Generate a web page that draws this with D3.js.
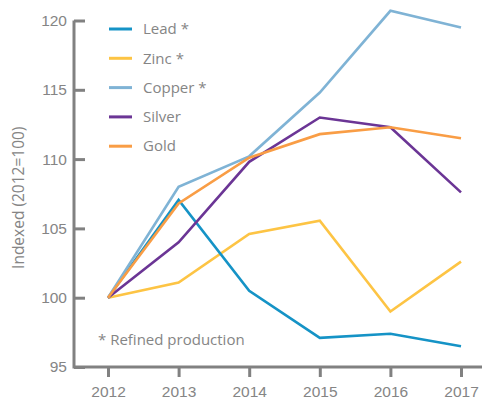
<!DOCTYPE html>
<html>
<head>
<meta charset="utf-8">
<script src="https://cdn.jsdelivr.net/npm/d3@7"></script>
<style>
  html, body { margin: 0; padding: 0; background: #fff; }
  svg { display: block; font-family: "Open Sans", "Noto Sans", sans-serif; }
</style>
</head>
<body>
<svg id="chart" width="482" height="401"></svg>
<script>
const years = [2012, 2013, 2014, 2015, 2016, 2017]
const yTicks = [95, 100, 105, 110, 115, 120]

const lead = [100, 107.05, 100.5, 97.1, 97.4, 96.5]
const zinc = [100, 101.1, 104.6, 105.55, 99.0, 102.6]
const copper = [100, 108.0, 110.2, 114.8, 120.7, 119.5]
const silver = [100, 104.0, 109.8, 113.0, 112.3, 107.6]
const gold = [100, 106.8, 110.1, 111.8, 112.3, 111.5]

const seriesNames = ["Lead *", "Zinc *", "Copper *", "Silver", "Gold"]
const seriesColors = ["#1593c6", "#fdc444", "#7fb3d5", "#6b3595", "#f99d45"]
const seriesValues = [lead, zinc, copper, silver, gold]

const width = 482
const height = 401
const axisColor = "#818181"
const textColor = "#858585"

const svg = d3.select("#chart")

const x = d3.scaleLinear().domain([2012, 2017]).range([108, 461])
const y = d3.scaleLinear().domain([95, 120]).range([367, 20.5])
const axisX = 74

// y axis
const yAxis = svg.append("g")
  .attr("transform", `translate(${axisX},0)`)
  .call(d3.axisLeft(y).tickValues(yTicks).tickSizeInner(-11).tickSizeOuter(0).tickPadding(7))
yAxis.select(".domain").remove()
yAxis.selectAll("line").attr("stroke", axisColor).attr("stroke-width", 3)
yAxis.selectAll("text")
  .attr("fill", textColor)
  .attr("font-size", 15.5)
  .attr("font-family", null)

// x axis
const xAxis = svg.append("g")
  .attr("transform", `translate(0,${y(95)})`)
  .call(d3.axisBottom(x).tickValues(years).tickFormat(d3.format("d")).tickSizeInner(10).tickSizeOuter(0).tickPadding(9))
xAxis.select(".domain").remove()
xAxis.selectAll("line").attr("stroke", axisColor).attr("stroke-width", 3)
xAxis.selectAll("text")
  .attr("fill", textColor)
  .attr("font-size", 15.5)
  .attr("font-family", null)

// axis lines
svg.append("path")
  .attr("d", `M${axisX},${y(120)}V${y(95)}H${width}`)
  .attr("fill", "none")
  .attr("stroke", axisColor)
  .attr("stroke-width", 3)

// y label
svg.append("text")
  .attr("transform", `translate(24,${(y(95) + y(120)) / 2 + 4}) rotate(-90)`)
  .attr("text-anchor", "middle")
  .attr("fill", textColor)
  .attr("font-size", 15.5)
  .text("Indexed (2012=100)")

// lines
const line = d3.line()
  .x((d, i) => x(years[i]))
  .y((d) => y(d))

const drawOrder = [1, 0, 3, 2, 4]
drawOrder.forEach((k) => {
  svg.append("path")
    .datum(seriesValues[k])
    .attr("d", line)
    .attr("fill", "none")
    .attr("stroke", seriesColors[k])
    .attr("stroke-width", 2.6)
    .attr("stroke-linejoin", "miter")
})

// legend
const legend = svg.append("g").attr("transform", "translate(109,29)")
seriesNames.forEach((name, i) => {
  const row = legend.append("g").attr("transform", `translate(0,${i * 29.3})`)
  row.append("line")
    .attr("x1", 0).attr("x2", 23)
    .attr("stroke", seriesColors[i])
    .attr("stroke-width", 3)
  row.append("text")
    .attr("x", 34)
    .attr("dy", "0.35em")
    .attr("fill", textColor)
    .attr("font-size", 15)
    .text(name)
})

svg.append("text")
  .attr("x", 98)
  .attr("y", 345)
  .attr("fill", textColor)
  .attr("font-size", 15)
  .text("* Refined production")
</script>
</body>
</html>
